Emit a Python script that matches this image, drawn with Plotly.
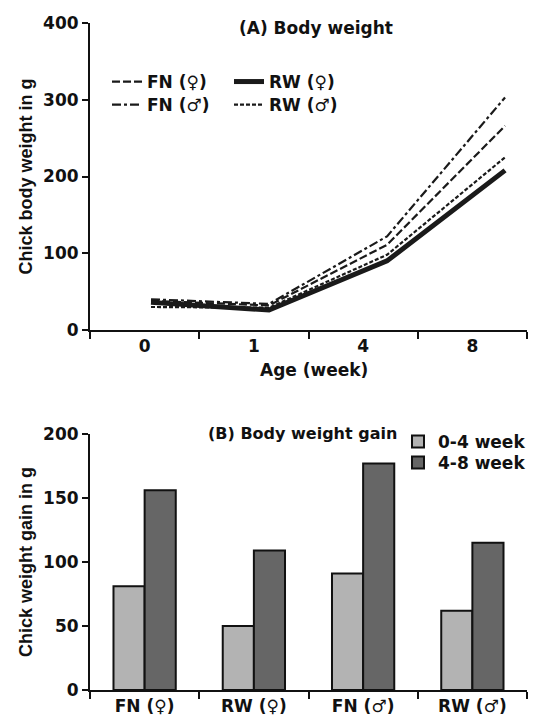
import plotly.graph_objects as go

# ---- Data ----
ages = ["0", "1", "4", "8"]
fn_female = [38, 32, 111, 266]
fn_male = [40, 34, 122, 303]
rw_female = [36, 26, 90, 208]
rw_male = [30, 29, 98, 225]

groups = ["FN (♀)", "RW (♀)", "FN (♂)", "RW (♂)"]
gain_0_4 = [81, 50, 91, 62]
gain_4_8 = [156, 109, 177, 115]

FONT = "DejaVu Sans, Liberation Sans, Arial, sans-serif"
VFONT = "Liberation Sans, Arial, sans-serif"
W, H = 557, 716
INK = "#1a1a1a"
BOLD = "bold"

fig = go.Figure()

# invisible carrier trace so the category x-axis of panel A gets its labels
fig.add_trace(go.Scatter(
    x=ages, y=fn_female, mode="lines", line=dict(width=0, color="rgba(0,0,0,0)"),
    opacity=0, showlegend=False, hoverinfo="skip", xaxis="x", yaxis="y",
))

line_specs = [
    ("FN (♀)", fn_female, dict(width=2.2, dash="8px,3px"), "legend"),
    ("RW (♀)", rw_female, dict(width=5, dash="solid"), "legend"),
    ("FN (♂)", fn_male, dict(width=2.2, dash="9px,3px,3px,3px"), "legend2"),
    ("RW (♂)", rw_male, dict(width=2.2, dash="4px,2px"), "legend2"),
]
for name, vals, ln, lg in line_specs:
    fig.add_trace(go.Scatter(
        x=ages, y=vals, name=name, mode="lines",
        line=dict(color=INK, **ln), xaxis="x3", yaxis="y", legend=lg,
    ))

fig.add_trace(go.Bar(
    x=groups, y=gain_0_4, name="0-4 week", xaxis="x2", yaxis="y2",
    marker=dict(color="#b3b3b3", line=dict(color="#111", width=2)), legend="legend3",
))
fig.add_trace(go.Bar(
    x=groups, y=gain_4_8, name="4-8 week", xaxis="x2", yaxis="y2",
    marker=dict(color="#666666", line=dict(color="#111", width=2)), legend="legend4",
))

xd = [82 / W, 519 / W]
ya = [1 - 322 / H, 1 - 15 / H]
yb = [1 - 682 / H, 1 - 426 / H]

tickf = dict(family=FONT, size=17, color="#111", weight=BOLD)
vtitlef = dict(family=VFONT, size=18, color="#111", weight=BOLD)
legf = dict(family=FONT, size=17, color="#111", weight=BOLD)

axis_common = dict(
    showline=True, linecolor="#111", linewidth=2, ticks="outside",
    tickcolor="#111", tickwidth=2, showgrid=False, zeroline=False,
    tickfont=tickf, automargin=False,
)


def legend_row(x_px, y_px, orient="h", ew=None):
    d = dict(orientation=orient, x=x_px / W, y=1 - y_px / H, xanchor="left", yanchor="middle",
             bgcolor="rgba(0,0,0,0)", font=legf, tracegroupgap=0)
    if ew:
        d.update(entrywidth=ew, entrywidthmode="pixels")
    return d


def note(text, x_px, y_px, size, family=FONT):
    return dict(text=text, x=x_px / W, y=1 - y_px / H, xref="paper", yref="paper",
                xanchor="center", yanchor="middle", showarrow=False,
                font=dict(family=family, size=size, color="#111", weight=BOLD))


fig.update_layout(
    width=W, height=H, margin=dict(l=0, r=0, t=0, b=0),
    paper_bgcolor="white", plot_bgcolor="white",
    font=dict(family=FONT, color="#111"),
    barmode="group", bargap=0.43, bargroupgap=0,
    xaxis=dict(domain=xd, anchor="y", type="category", categoryorder="array",
               categoryarray=ages, range=[-0.5, 3.5], tickson="boundaries", ticklen=7,
               **axis_common),
    yaxis=dict(domain=ya, anchor="x", range=[0, 400], dtick=100, ticklen=6,
               title=dict(text="Chick body weight in g", font=vtitlef, standoff=6),
               **axis_common),
    xaxis3=dict(domain=xd, overlaying="x", anchor="y", type="category", categoryarray=ages,
                range=[-0.517, 3.186], visible=False),
    xaxis2=dict(domain=xd, anchor="y2", type="category", categoryarray=groups,
                range=[-0.5, 3.5], tickson="boundaries", ticklen=7,
                **axis_common),
    yaxis2=dict(domain=yb, anchor="x2", range=[0, 200], dtick=50, ticklen=6,
                title=dict(text="Chick weight gain in g", font=vtitlef, standoff=6),
                **axis_common),
    legend=legend_row(99, 74, ew=77),
    legend2=legend_row(99, 97, ew=77),
    legend3=legend_row(390, 434, orient="v"),
    legend4=legend_row(390, 455, orient="v"),
    annotations=[
        note("(A) Body weight", 308, 20, 17),
        note("(B) Body weight gain", 294, 426, 16),
        note("Age (week)", 306, 362, 17),
    ],
)

fig.write_html("out.html")
